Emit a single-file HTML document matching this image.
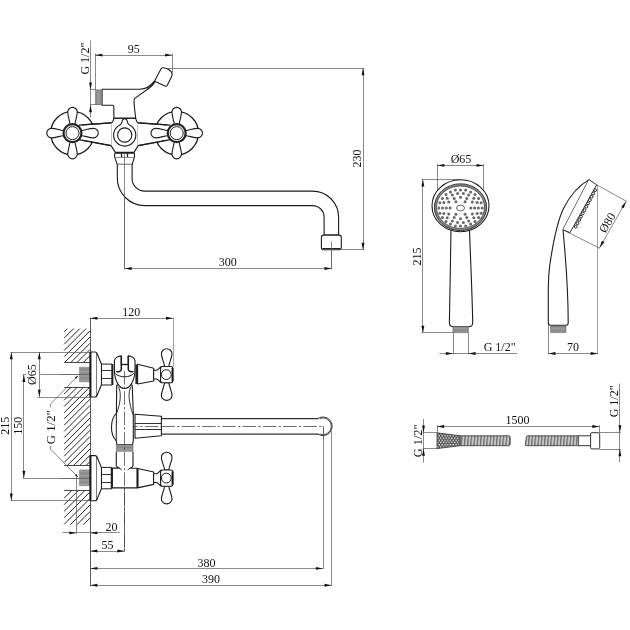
<!DOCTYPE html>
<html><head><meta charset="utf-8"><title>Faucet dimensions</title>
<style>
html,body{margin:0;padding:0;background:#fff;}
body{width:630px;height:630px;overflow:hidden;}
svg{display:block;font-family:"Liberation Serif",serif;filter:grayscale(1);}
</style></head>
<body>
<svg width="630" height="630" viewBox="0 0 630 630" stroke-linecap="butt" stroke-linejoin="round">
<defs>
<pattern id="thr" patternUnits="userSpaceOnUse" width="1.3" height="1.3">
<rect width="1.3" height="1.3" fill="#9c9c9c"/><line x1="0" y1="0" x2="0" y2="1.3" stroke="#707070" stroke-width="0.6"/>
</pattern>
<pattern id="thrh" patternUnits="userSpaceOnUse" width="1.3" height="1.3">
<rect width="1.3" height="1.3" fill="#9c9c9c"/><line x1="0" y1="0" x2="1.3" y2="0" stroke="#707070" stroke-width="0.6"/>
</pattern>
<pattern id="knurl" patternUnits="userSpaceOnUse" width="2.8" height="4.4" x="437.2" y="432.6">
<rect width="2.8" height="4.4" fill="#4a4a4a"/><circle cx="0.7" cy="1.1" r="0.8" fill="#f4f4f4"/><circle cx="2.1" cy="3.3" r="0.8" fill="#f4f4f4"/>
</pattern>
<pattern id="hose" patternUnits="userSpaceOnUse" width="3.2" height="12" patternTransform="skewX(-6)">
<rect width="3.2" height="12" fill="#8e8e8e"/><rect x="0.3" width="1.2" height="12" fill="#e6e6e6"/><rect x="1.5" width="0.6" height="12" fill="#5a5a5a"/>
</pattern>
</defs>
<rect width="630" height="630" fill="#fff"/>
<line x1="90.5" y1="40.5" x2="90.5" y2="117.5" stroke="#5a5a5a" stroke-width="0.72" />
<line x1="95.5" y1="53.5" x2="95.5" y2="90" stroke="#5a5a5a" stroke-width="0.72" />
<line x1="172.5" y1="53.5" x2="172.5" y2="72.6" stroke="#5a5a5a" stroke-width="0.72" />
<line x1="95.1" y1="55.5" x2="172.3" y2="55.5" stroke="#5a5a5a" stroke-width="0.72" />
<polygon points="95.10,55.10 102.30,53.65 102.30,56.55" fill="#111"/>
<polygon points="172.30,55.10 165.10,56.55 165.10,53.65" fill="#111"/>
<text x="133.8" y="53.0" font-size="12" text-anchor="middle" fill="#111">95</text>
<polygon points="90.50,89.70 89.05,82.50 91.95,82.50" fill="#111"/>
<polygon points="90.50,105.00 91.95,112.20 89.05,112.20" fill="#111"/>
<line x1="90.0" y1="89.5" x2="96" y2="89.5" stroke="#5a5a5a" stroke-width="0.72" />
<text x="88.6" y="58.6" font-size="12" text-anchor="middle" fill="#111" transform="rotate(-90 88.6 58.6)">G 1/2&quot;</text>
<line x1="163.0" y1="68.5" x2="364.0" y2="68.5" stroke="#5a5a5a" stroke-width="0.72" />
<line x1="363.5" y1="68.1" x2="363.5" y2="249.8" stroke="#5a5a5a" stroke-width="0.72" />
<line x1="341.3" y1="249.5" x2="364.2" y2="249.5" stroke="#5a5a5a" stroke-width="0.72" />
<polygon points="363.00,68.10 364.45,75.30 361.55,75.30" fill="#111"/>
<polygon points="363.00,249.90 361.55,242.70 364.45,242.70" fill="#111"/>
<text x="361.0" y="158.5" font-size="12" text-anchor="middle" fill="#111" transform="rotate(-90 361.0 158.5)">230</text>
<line x1="124.5" y1="157" x2="124.5" y2="269.2" stroke="#5a5a5a" stroke-width="0.72" />
<line x1="331.5" y1="241.4" x2="331.5" y2="269.2" stroke="#5a5a5a" stroke-width="0.72" />
<line x1="124.5" y1="268.5" x2="331.7" y2="268.5" stroke="#5a5a5a" stroke-width="0.72" />
<polygon points="124.50,268.50 131.70,267.05 131.70,269.95" fill="#111"/>
<polygon points="331.70,268.50 324.50,269.95 324.50,267.05" fill="#111"/>
<text x="227.8" y="265.8" font-size="12" text-anchor="middle" fill="#111">300</text>
<circle cx="72.5" cy="133.1" r="21.8" stroke="#1c1c1c" stroke-width="1.3" fill="#fff"/>
<circle cx="176.7" cy="133.1" r="21.8" stroke="#1c1c1c" stroke-width="1.3" fill="#fff"/>
<path d="M113.9,118.1 H135.6 C136.3,120.8 136.9,122.5 138.4,122.9 L167.2,124.9 L167.2,140.2 L138.2,145.6 L134.0,152.4 H115.4 L111.0,145.6 L82.0,140.2 L82.0,124.9 L111.0,122.9 C112.6,122.5 113.4,120.8 113.9,118.1 Z" fill="#fff" stroke="none"/>
<path d="M82.0,124.9 L111.0,122.9 C112.6,122.5 113.4,120.8 113.9,118.1 H135.6 C136.3,120.8 136.9,122.5 138.4,122.9 L167.2,124.9" stroke="#1c1c1c" stroke-width="1.1" fill="none" />
<path d="M82.0,140.2 L111.0,145.6 L115.4,152.4 H134.0 L138.2,145.6 L167.2,140.2" stroke="#1c1c1c" stroke-width="1.1" fill="none" />
<line x1="111.5" y1="123.6" x2="111.5" y2="144.8" stroke="#9a9a9a" stroke-width="0.6" />
<line x1="137.5" y1="123.6" x2="137.5" y2="144.8" stroke="#9a9a9a" stroke-width="0.6" />
<path d="M102.1,105.3 V89.2 H140 C146,89.1 150.4,86.2 154.6,80.9 L161.1,68.8 Q161.9,67.5 163.4,67.8 C167.5,68.4 172.2,70.8 172.1,74.4 Q172.1,75.6 171.5,76.8 L167.3,85.3 Q166.5,86.7 165.0,86.0 L155.2,81.4 C153.0,85.2 151.0,86.9 149.0,88.3 L134.4,98.6 C133.2,102 135.0,111 135.7,118.1 H113.9 L113.8,106.8 Q113.9,105.3 112.6,105.3 Z" stroke="#1c1c1c" stroke-width="1.1" fill="#fff" />
<path d="M147.2,88.6 C150.2,87.0 152.6,84.6 154.9,81.2" stroke="#1c1c1c" stroke-width="0.8" fill="none" />
<line x1="90.0" y1="104.5" x2="102.1" y2="104.5" stroke="#5a5a5a" stroke-width="0.72" />
<rect x="95.4" y="89.8" width="6.7" height="14.9" rx="0" stroke="#666" stroke-width="0.5" fill="url(#thr)"/>
<path d="M119.9,125.0 C122.0,124.0 121.9,122.0 122.3,120.6 A2.45,2.45 0 0 1 127.1,120.6 C127.5,122.0 127.4,124.0 129.5,125.0 A11.1,11.1 0 1 1 119.9,125.0 Z" stroke="#1c1c1c" stroke-width="1.1" fill="#fff" />
<circle cx="124.7" cy="135.0" r="7.1" stroke="#1c1c1c" stroke-width="1.1" fill="#fff"/>
<rect x="114.6" y="153.2" width="19.9" height="4.3" rx="0.8" stroke="#1c1c1c" stroke-width="1.1" fill="#fff"/>
<line x1="121.5" y1="153.2" x2="121.5" y2="157.5" stroke="#222" stroke-width="1.3" />
<line x1="127.5" y1="153.2" x2="127.5" y2="157.5" stroke="#222" stroke-width="1.3" />
<path d="M114.8,157.6 L117.3,164.6 H132.1 L134.3,157.6" stroke="#1c1c1c" stroke-width="1.1" fill="#fff" />
<line x1="117.3" y1="164.5" x2="132.1" y2="164.5" stroke="#222" stroke-width="1.4" />
<path d="M117.3,164.4 V178.0 A27.5,27.5 0 0 0 144.8,205.6 H312.5 A11.6,11.6 0 0 1 324.1,217.2 V235.1 H338.6 V217.2 A26.1,26.1 0 0 0 312.5,191.1 H144.8 A12.7,12.7 0 0 1 132.1,178.4 V164.4" stroke="#1c1c1c" stroke-width="1.1" fill="#fff" />
<rect x="321.4" y="235.1" width="19.9" height="14.6" rx="2.2" stroke="#1c1c1c" stroke-width="1.1" fill="#fff"/>
<line x1="322.6" y1="248.5" x2="340.2" y2="248.5" stroke="#222" stroke-width="1.0" />
<line x1="124.5" y1="153.3" x2="124.5" y2="269.2" stroke="#5a5a5a" stroke-width="0.72" />
<line x1="331.5" y1="241.4" x2="331.5" y2="269.2" stroke="#5a5a5a" stroke-width="0.72" />
<path d="M79.0,125.1 L111.0,122.9 M79.0,139.6 L111.0,145.6 M170.2,125.1 L138.4,122.9 M170.2,139.6 L138.2,145.6" stroke="#1c1c1c" stroke-width="1.1" fill="none" />
<path d="M-2.4,-8.6 C-3.0,-13 -4.75,-17 -4.75,-21.0 A4.75,4.75 0 0 1 4.75,-21.0 C4.75,-17 3.0,-13 2.4,-8.6" transform="translate(72.5 133.1) rotate(0)" stroke="#1c1c1c" stroke-width="1.1" fill="#fff"/>
<path d="M-2.4,-8.6 C-3.0,-13 -4.75,-17 -4.75,-21.0 A4.75,4.75 0 0 1 4.75,-21.0 C4.75,-17 3.0,-13 2.4,-8.6" transform="translate(72.5 133.1) rotate(90)" stroke="#1c1c1c" stroke-width="1.1" fill="#fff"/>
<path d="M-2.4,-8.6 C-3.0,-13 -4.75,-17 -4.75,-21.0 A4.75,4.75 0 0 1 4.75,-21.0 C4.75,-17 3.0,-13 2.4,-8.6" transform="translate(72.5 133.1) rotate(180)" stroke="#1c1c1c" stroke-width="1.1" fill="#fff"/>
<path d="M-2.4,-8.6 C-3.0,-13 -4.75,-17 -4.75,-21.0 A4.75,4.75 0 0 1 4.75,-21.0 C4.75,-17 3.0,-13 2.4,-8.6" transform="translate(72.5 133.1) rotate(270)" stroke="#1c1c1c" stroke-width="1.1" fill="#fff"/>
<circle cx="72.5" cy="133.1" r="9.0" stroke="#222" stroke-width="2.2" fill="#fff"/>
<circle cx="72.5" cy="133.1" r="6.5" stroke="#1c1c1c" stroke-width="1.0" fill="#fff"/>
<path d="M-2.4,-8.6 C-3.0,-13 -4.75,-17 -4.75,-21.0 A4.75,4.75 0 0 1 4.75,-21.0 C4.75,-17 3.0,-13 2.4,-8.6" transform="translate(176.7 133.1) rotate(0)" stroke="#1c1c1c" stroke-width="1.1" fill="#fff"/>
<path d="M-2.4,-8.6 C-3.0,-13 -4.75,-17 -4.75,-21.0 A4.75,4.75 0 0 1 4.75,-21.0 C4.75,-17 3.0,-13 2.4,-8.6" transform="translate(176.7 133.1) rotate(90)" stroke="#1c1c1c" stroke-width="1.1" fill="#fff"/>
<path d="M-2.4,-8.6 C-3.0,-13 -4.75,-17 -4.75,-21.0 A4.75,4.75 0 0 1 4.75,-21.0 C4.75,-17 3.0,-13 2.4,-8.6" transform="translate(176.7 133.1) rotate(180)" stroke="#1c1c1c" stroke-width="1.1" fill="#fff"/>
<path d="M-2.4,-8.6 C-3.0,-13 -4.75,-17 -4.75,-21.0 A4.75,4.75 0 0 1 4.75,-21.0 C4.75,-17 3.0,-13 2.4,-8.6" transform="translate(176.7 133.1) rotate(270)" stroke="#1c1c1c" stroke-width="1.1" fill="#fff"/>
<circle cx="176.7" cy="133.1" r="9.0" stroke="#222" stroke-width="2.2" fill="#fff"/>
<circle cx="176.7" cy="133.1" r="6.5" stroke="#1c1c1c" stroke-width="1.0" fill="#fff"/>
<line x1="64.20" y1="331.80" x2="67.40" y2="328.60" stroke="#262626" stroke-width="1.0"/>
<line x1="64.20" y1="338.02" x2="73.62" y2="328.60" stroke="#262626" stroke-width="1.0"/>
<line x1="64.20" y1="344.24" x2="79.84" y2="328.60" stroke="#262626" stroke-width="1.0"/>
<line x1="64.20" y1="350.46" x2="86.06" y2="328.60" stroke="#262626" stroke-width="1.0"/>
<line x1="64.20" y1="356.68" x2="90.20" y2="330.68" stroke="#262626" stroke-width="1.0"/>
<line x1="64.70" y1="362.40" x2="90.20" y2="336.90" stroke="#262626" stroke-width="1.0"/>
<line x1="70.92" y1="362.40" x2="90.20" y2="343.12" stroke="#262626" stroke-width="1.0"/>
<line x1="77.14" y1="362.40" x2="90.20" y2="349.34" stroke="#262626" stroke-width="1.0"/>
<line x1="83.36" y1="362.40" x2="90.20" y2="355.56" stroke="#262626" stroke-width="1.0"/>
<line x1="64.20" y1="394.00" x2="71.20" y2="387.00" stroke="#262626" stroke-width="1.0"/>
<line x1="64.20" y1="400.22" x2="77.42" y2="387.00" stroke="#262626" stroke-width="1.0"/>
<line x1="64.20" y1="406.44" x2="83.64" y2="387.00" stroke="#262626" stroke-width="1.0"/>
<line x1="64.20" y1="412.66" x2="89.86" y2="387.00" stroke="#262626" stroke-width="1.0"/>
<line x1="64.20" y1="418.88" x2="90.20" y2="392.88" stroke="#262626" stroke-width="1.0"/>
<line x1="64.20" y1="425.10" x2="90.20" y2="399.10" stroke="#262626" stroke-width="1.0"/>
<line x1="64.20" y1="431.32" x2="90.20" y2="405.32" stroke="#262626" stroke-width="1.0"/>
<line x1="64.20" y1="437.54" x2="90.20" y2="411.54" stroke="#262626" stroke-width="1.0"/>
<line x1="64.20" y1="443.76" x2="90.20" y2="417.76" stroke="#262626" stroke-width="1.0"/>
<line x1="64.20" y1="449.98" x2="90.20" y2="423.98" stroke="#262626" stroke-width="1.0"/>
<line x1="64.20" y1="456.20" x2="90.20" y2="430.20" stroke="#262626" stroke-width="1.0"/>
<line x1="64.20" y1="462.42" x2="90.20" y2="436.42" stroke="#262626" stroke-width="1.0"/>
<line x1="67.34" y1="465.50" x2="90.20" y2="442.64" stroke="#262626" stroke-width="1.0"/>
<line x1="73.56" y1="465.50" x2="90.20" y2="448.86" stroke="#262626" stroke-width="1.0"/>
<line x1="79.78" y1="465.50" x2="90.20" y2="455.08" stroke="#262626" stroke-width="1.0"/>
<line x1="86.00" y1="465.50" x2="90.20" y2="461.30" stroke="#262626" stroke-width="1.0"/>
<line x1="64.20" y1="498.10" x2="71.90" y2="490.40" stroke="#262626" stroke-width="1.0"/>
<line x1="64.20" y1="504.65" x2="78.45" y2="490.40" stroke="#262626" stroke-width="1.0"/>
<line x1="64.20" y1="511.20" x2="85.00" y2="490.40" stroke="#262626" stroke-width="1.0"/>
<line x1="64.20" y1="517.75" x2="90.20" y2="491.75" stroke="#262626" stroke-width="1.0"/>
<line x1="64.20" y1="524.30" x2="90.20" y2="498.30" stroke="#262626" stroke-width="1.0"/>
<line x1="70.35" y1="524.70" x2="90.20" y2="504.85" stroke="#262626" stroke-width="1.0"/>
<line x1="76.90" y1="524.70" x2="90.20" y2="511.40" stroke="#262626" stroke-width="1.0"/>
<line x1="83.45" y1="524.70" x2="90.20" y2="517.95" stroke="#262626" stroke-width="1.0"/>
<line x1="64.2" y1="362.5" x2="90.2" y2="362.5" stroke="#333" stroke-width="0.9" />
<line x1="64.2" y1="387.5" x2="90.2" y2="387.5" stroke="#333" stroke-width="0.9" />
<line x1="64.2" y1="465.5" x2="90.2" y2="465.5" stroke="#333" stroke-width="0.9" />
<line x1="64.2" y1="490.5" x2="90.2" y2="490.5" stroke="#333" stroke-width="0.9" />
<line x1="90.5" y1="317.5" x2="90.5" y2="586.2" stroke="#4a4a4a" stroke-width="0.9" />
<line x1="173.5" y1="317.5" x2="173.5" y2="367" stroke="#777" stroke-width="0.7" />
<line x1="90.2" y1="318.5" x2="173.2" y2="318.5" stroke="#5a5a5a" stroke-width="0.72" />
<polygon points="90.20,318.30 97.40,316.85 97.40,319.75" fill="#111"/>
<polygon points="173.20,318.30 166.00,319.75 166.00,316.85" fill="#111"/>
<text x="131.3" y="316.0" font-size="12" text-anchor="middle" fill="#111">120</text>
<line x1="10.5" y1="352.5" x2="96" y2="352.5" stroke="#5a5a5a" stroke-width="0.72" />
<line x1="10.5" y1="500.5" x2="90.2" y2="500.5" stroke="#5a5a5a" stroke-width="0.72" />
<line x1="11.5" y1="352.0" x2="11.5" y2="500.8" stroke="#5a5a5a" stroke-width="0.72" />
<polygon points="11.30,352.00 12.75,359.20 9.85,359.20" fill="#111"/>
<polygon points="11.30,500.80 9.85,493.60 12.75,493.60" fill="#111"/>
<text x="9.0" y="425.7" font-size="12" text-anchor="middle" fill="#111" transform="rotate(-90 9.0 425.7)">215</text>
<line x1="22.7" y1="374.5" x2="26.4" y2="374.5" stroke="#5a5a5a" stroke-width="0.72" />
<line x1="40.4" y1="374.5" x2="94.3" y2="374.5" stroke="#5a5a5a" stroke-width="0.72" />
<line x1="22.7" y1="478.5" x2="94.3" y2="478.5" stroke="#5a5a5a" stroke-width="0.72" />
<line x1="23.5" y1="374.7" x2="23.5" y2="478.0" stroke="#5a5a5a" stroke-width="0.72" />
<polygon points="23.90,374.70 25.35,381.90 22.45,381.90" fill="#111"/>
<polygon points="23.90,478.00 22.45,470.80 25.35,470.80" fill="#111"/>
<text x="22.3" y="425.7" font-size="12" text-anchor="middle" fill="#111" transform="rotate(-90 22.3 425.7)">150</text>
<line x1="37.5" y1="397.5" x2="90.2" y2="397.5" stroke="#5a5a5a" stroke-width="0.72" />
<line x1="39.5" y1="352.0" x2="39.5" y2="397.0" stroke="#5a5a5a" stroke-width="0.72" />
<polygon points="39.30,352.00 40.75,359.20 37.85,359.20" fill="#111"/>
<polygon points="39.30,397.00 37.85,389.80 40.75,389.80" fill="#111"/>
<text x="36.4" y="374.6" font-size="12" text-anchor="middle" fill="#111" transform="rotate(-90 36.4 374.6)">&#216;65</text>
<path d="M77.7,376.0 L50.4,404.2 V407.5 M50.4,446.0 V449.0 L77.7,476.8" stroke="#5a5a5a" stroke-width="0.72" fill="none" />
<text x="54.6" y="427.2" font-size="12.8" text-anchor="middle" fill="#111" transform="rotate(-90 54.6 427.2)">G 1/2&quot;</text>
<polygon points="78.20,375.50 76.42,378.78 74.98,377.39" fill="#111"/>
<polygon points="78.20,477.30 74.98,475.41 76.42,474.02" fill="#111"/>
<rect x="79.4" y="367.2" width="10.799999999999997" height="14.6" rx="0" stroke="#666" stroke-width="0.4" fill="url(#thrh)"/>
<rect x="79.4" y="469.9" width="10.799999999999997" height="15.8" rx="0" stroke="#666" stroke-width="0.4" fill="url(#thrh)"/>
<line x1="60" y1="374.5" x2="93.6" y2="374.5" stroke="#5a5a5a" stroke-width="0.72" />
<line x1="60" y1="478.5" x2="93.6" y2="478.5" stroke="#5a5a5a" stroke-width="0.72" />
<line x1="76.5" y1="476.8" x2="76.5" y2="533.8" stroke="#5a5a5a" stroke-width="0.72" />
<line x1="62.6" y1="532.5" x2="119.8" y2="532.5" stroke="#5a5a5a" stroke-width="0.72" />
<polygon points="76.50,532.90 69.30,534.35 69.30,531.45" fill="#111"/>
<polygon points="90.20,532.90 97.40,531.45 97.40,534.35" fill="#111"/>
<text x="111.6" y="530.6" font-size="12" text-anchor="middle" fill="#111">20</text>
<line x1="124.5" y1="488" x2="124.5" y2="551.6" stroke="#5a5a5a" stroke-width="0.72" />
<line x1="90.2" y1="551.5" x2="124.6" y2="551.5" stroke="#5a5a5a" stroke-width="0.72" />
<polygon points="90.20,551.00 97.40,549.55 97.40,552.45" fill="#111"/>
<polygon points="124.60,551.00 117.40,552.45 117.40,549.55" fill="#111"/>
<text x="107.5" y="548.5" font-size="12" text-anchor="middle" fill="#111">55</text>
<line x1="323.5" y1="426.3" x2="323.5" y2="569.0" stroke="#5a5a5a" stroke-width="0.72" />
<line x1="90.2" y1="568.5" x2="323.0" y2="568.5" stroke="#5a5a5a" stroke-width="0.72" />
<polygon points="90.20,568.40 97.40,566.95 97.40,569.85" fill="#111"/>
<polygon points="323.00,568.40 315.80,569.85 315.80,566.95" fill="#111"/>
<text x="206.6" y="566.5" font-size="12" text-anchor="middle" fill="#111">380</text>
<line x1="331.5" y1="431.0" x2="331.5" y2="585.8" stroke="#5a5a5a" stroke-width="0.72" />
<line x1="90.2" y1="585.5" x2="331.7" y2="585.5" stroke="#5a5a5a" stroke-width="0.72" />
<polygon points="90.20,585.20 97.40,583.75 97.40,586.65" fill="#111"/>
<polygon points="331.70,585.20 324.50,586.65 324.50,583.75" fill="#111"/>
<text x="211.0" y="583.2" font-size="12" text-anchor="middle" fill="#111">390</text>
<path d="M90.2,352.0 H95.0 Q96.9,352.0 96.9,354.0 V395.0 Q96.9,397.0 95.0,397.0 H90.2 Z" stroke="#1c1c1c" stroke-width="1.1" fill="#fff" />
<path d="M96.9,353.2 L101.5,364.2 V384.8 L96.9,395.8" stroke="#1c1c1c" stroke-width="1.1" fill="#fff" />
<line x1="90.5" y1="352.0" x2="90.5" y2="397.0" stroke="#1a1a1a" stroke-width="1.9" />
<rect x="101.5" y="364.1" width="10.5" height="20.899999999999977" rx="0" stroke="#1c1c1c" stroke-width="1.0" fill="#fff"/>
<line x1="101.5" y1="370.5" x2="112.0" y2="370.5" stroke="#1c1c1c" stroke-width="0.9" />
<line x1="101.5" y1="378.5" x2="112.0" y2="378.5" stroke="#1c1c1c" stroke-width="0.9" />
<line x1="112.5" y1="364.1" x2="112.5" y2="385.0" stroke="#222" stroke-width="1.8" />
<path d="M137.6,364.3 L153.8,368.3 V381.0 L137.6,384.0 Z" stroke="#1c1c1c" stroke-width="1.1" fill="#fff" />
<line x1="136.5" y1="364.4" x2="136.5" y2="384.0" stroke="#222" stroke-width="2.2" />
<path d="M-2.1,-8.0 C-2.6,-12.5 -5.3,-16.8 -5.3,-20.8 A5.3,5.0 0 0 1 5.3,-20.8 C5.3,-16.8 2.6,-12.5 2.1,-8.0 Z" transform="translate(166.7 374.6)" stroke="#1c1c1c" stroke-width="1.1" fill="#fff"/>
<path d="M-2.1,-8.0 C-2.6,-12.5 -5.3,-16.8 -5.3,-20.8 A5.3,5.0 0 0 1 5.3,-20.8 C5.3,-16.8 2.6,-12.5 2.1,-8.0 Z" transform="translate(166.7 374.6) scale(1 -1)" stroke="#1c1c1c" stroke-width="1.1" fill="#fff"/>
<path d="M153.6,370.20000000000005 H156.4 C158.4,370.0 159.4,367.40000000000003 161.2,366.6 V382.6 C159.4,381.8 158.4,379.20000000000005 156.4,379.0 H153.6 Z" stroke="#1c1c1c" stroke-width="1.1" fill="#fff" />
<rect x="160.6" y="366.5" width="12.2" height="16.2" rx="2.0" stroke="#1c1c1c" stroke-width="1.1" fill="#fff"/>
<line x1="172.5" y1="368.0" x2="172.5" y2="381.20000000000005" stroke="#1a1a1a" stroke-width="1.9" />
<circle cx="166.29999999999998" cy="374.6" r="4.9" stroke="#1c1c1c" stroke-width="1.0" fill="none"/>
<path d="M90.2,455.6 H95.0 Q96.9,455.6 96.9,457.6 V498.8 Q96.9,500.8 95.0,500.8 H90.2 Z" stroke="#1c1c1c" stroke-width="1.1" fill="#fff" />
<path d="M96.9,456.8 L101.5,467.90000000000003 V488.50000000000006 L96.9,499.6" stroke="#1c1c1c" stroke-width="1.1" fill="#fff" />
<line x1="90.5" y1="455.6" x2="90.5" y2="500.8" stroke="#1a1a1a" stroke-width="1.9" />
<rect x="101.5" y="467.4" width="10.099999999999994" height="21.400000000000034" rx="0" stroke="#1c1c1c" stroke-width="1.0" fill="#fff"/>
<line x1="101.5" y1="474.5" x2="111.6" y2="474.5" stroke="#1c1c1c" stroke-width="0.9" />
<line x1="101.5" y1="482.5" x2="111.6" y2="482.5" stroke="#1c1c1c" stroke-width="0.9" />
<line x1="111.5" y1="467.4" x2="111.5" y2="488.8" stroke="#222" stroke-width="1.5" />
<path d="M137.6,468.5 L153.7,472.0 V484.4 L137.6,487.9 Z" stroke="#1c1c1c" stroke-width="1.1" fill="#fff" />
<line x1="137.5" y1="468.3" x2="137.5" y2="488.0" stroke="#222" stroke-width="2.0" />
<path d="M-2.1,-8.0 C-2.6,-12.5 -5.3,-16.8 -5.3,-20.8 A5.3,5.0 0 0 1 5.3,-20.8 C5.3,-16.8 2.6,-12.5 2.1,-8.0 Z" transform="translate(166.7 478.1)" stroke="#1c1c1c" stroke-width="1.1" fill="#fff"/>
<path d="M-2.1,-8.0 C-2.6,-12.5 -5.3,-16.8 -5.3,-20.8 A5.3,5.0 0 0 1 5.3,-20.8 C5.3,-16.8 2.6,-12.5 2.1,-8.0 Z" transform="translate(166.7 478.1) scale(1 -1)" stroke="#1c1c1c" stroke-width="1.1" fill="#fff"/>
<path d="M153.6,473.70000000000005 H156.4 C158.4,473.5 159.4,470.90000000000003 161.2,470.1 V486.1 C159.4,485.3 158.4,482.70000000000005 156.4,482.5 H153.6 Z" stroke="#1c1c1c" stroke-width="1.1" fill="#fff" />
<rect x="160.6" y="470.0" width="12.2" height="16.2" rx="2.0" stroke="#1c1c1c" stroke-width="1.1" fill="#fff"/>
<line x1="172.5" y1="471.5" x2="172.5" y2="484.70000000000005" stroke="#1a1a1a" stroke-width="1.9" />
<circle cx="166.29999999999998" cy="478.1" r="4.9" stroke="#1c1c1c" stroke-width="1.0" fill="none"/>
<path d="M161.4,418.7 H320 V434.0 H161.4 Z" fill="#fff" stroke="none"/>
<path d="M161.4,418.7 H318.2 M161.4,434.0 H318.2" stroke="#333" stroke-width="1.25" fill="none" />
<path d="M317.7,418.6 A9.3,9.3 0 1 1 317.7,434.0" stroke="#222" stroke-width="0.9" fill="none" />
<path d="M319.8,418.6 A8.3,8.3 0 1 1 319.8,434.0" stroke="#333" stroke-width="0.9" fill="none" />
<line x1="161.4" y1="426.5" x2="323.0" y2="426.5" stroke="#333" stroke-width="0.7" stroke-dasharray="13.5 2.2 2.4 2.2"/>
<line x1="323.5" y1="426.3" x2="323.5" y2="440" stroke="#5a5a5a" stroke-width="0.7" />
<path d="M135.0,414.3 L161.4,416.2 V435.8 L135.0,438.2 Z" stroke="#1c1c1c" stroke-width="1.1" fill="#fff" />
<line x1="135.0" y1="423.5" x2="161.4" y2="423.5" stroke="#1c1c1c" stroke-width="0.9" />
<line x1="135.0" y1="429.5" x2="161.4" y2="429.5" stroke="#1c1c1c" stroke-width="0.9" />
<line x1="124.7" y1="426.5" x2="161.4" y2="426.5" stroke="#333" stroke-width="0.7" stroke-dasharray="13.5 2.2 2.4 2.2"/>
<path d="M116.7,385.0 L116.4,413.3 C110.4,418.5 109.4,434 116.2,440.6 L116.9,444.6 H132.6 L133.3,440.6 V413.3 L132.2,385.0 Z" stroke="#1c1c1c" stroke-width="1.1" fill="#fff" />
<path d="M116.4,413.3 L116.2,440.6" stroke="#1c1c1c" stroke-width="1.0" fill="none" />
<path d="M118.3,386.7 C121.6,392 120.6,403 116.6,413.3" stroke="#1c1c1c" stroke-width="0.9" fill="none" />
<path d="M131.0,386.7 C127.7,392 128.7,403 133.2,415.0" stroke="#1c1c1c" stroke-width="0.9" fill="none" />
<rect x="116.4" y="444.6" width="16.6" height="7.0" rx="0" stroke="#555" stroke-width="0.5" fill="url(#thrh)"/>
<path d="M116.3,451.7 V465.8 Q117.4,467.8 119.4,468.1 H112.4 V487.9 H137.0 V468.2 H130.0 Q132.0,467.8 133.0,465.8 V451.7" stroke="#1c1c1c" stroke-width="1.1" fill="#fff" />
<path d="M119.4,468.1 Q121.0,468.6 121.6,470.2 M130.0,468.2 Q128.4,468.6 127.8,470.2" stroke="#1c1c1c" stroke-width="0.9" fill="none" />
<path d="M114.4,360.6 C114.6,358.2 118.0,356.3 121.3,355.9 V364.5 H128.3 V355.9 C131.6,356.3 134.8,358.2 135.0,360.6 V371.0 C134.4,382.0 129.5,388.5 124.5,388.5 C119.5,388.5 115.0,382.0 114.4,371.0 Z" stroke="#1c1c1c" stroke-width="1.1" fill="#fff" />
<path d="M121.3,356.0 V369.6 C120.9,371.4 118.2,372.3 116.0,371.4" stroke="#1c1c1c" stroke-width="1.5" fill="none" />
<path d="M128.3,356.0 V369.6 C128.7,371.4 131.4,372.3 133.6,371.4" stroke="#1c1c1c" stroke-width="1.5" fill="none" />
<line x1="121.3" y1="364.5" x2="128.3" y2="364.5" stroke="#1c1c1c" stroke-width="1.3" />
<path d="M115.4,373.2 C118.6,378.0 130.6,378.0 133.8,373.2" stroke="#1c1c1c" stroke-width="1.0" fill="none" />
<line x1="124.5" y1="371.0" x2="124.5" y2="551.0" stroke="#333" stroke-width="0.7" stroke-dasharray="13.5 2.2 2.4 2.2"/>
<line x1="437.5" y1="164.0" x2="437.5" y2="190.5" stroke="#5a5a5a" stroke-width="0.72" />
<line x1="483.5" y1="164.0" x2="483.5" y2="189.5" stroke="#5a5a5a" stroke-width="0.72" />
<line x1="437.2" y1="165.5" x2="483.7" y2="165.5" stroke="#5a5a5a" stroke-width="0.72" />
<polygon points="437.20,165.40 444.40,163.95 444.40,166.85" fill="#111"/>
<polygon points="483.70,165.40 476.50,166.85 476.50,163.95" fill="#111"/>
<text x="461.0" y="162.6" font-size="12" text-anchor="middle" fill="#111">&#216;65</text>
<line x1="421.8" y1="179.5" x2="460.6" y2="179.5" stroke="#5a5a5a" stroke-width="0.72" />
<line x1="421.8" y1="332.5" x2="452.8" y2="332.5" stroke="#5a5a5a" stroke-width="0.72" />
<line x1="422.5" y1="179.4" x2="422.5" y2="332.9" stroke="#5a5a5a" stroke-width="0.72" />
<polygon points="422.90,179.40 424.35,186.60 421.45,186.60" fill="#111"/>
<polygon points="422.90,332.90 421.45,325.70 424.35,325.70" fill="#111"/>
<text x="420.6" y="256.6" font-size="12" text-anchor="middle" fill="#111" transform="rotate(-90 420.6 256.6)">215</text>
<line x1="453.5" y1="332.7" x2="453.5" y2="354.2" stroke="#5a5a5a" stroke-width="0.72" />
<line x1="468.5" y1="332.7" x2="468.5" y2="354.2" stroke="#5a5a5a" stroke-width="0.72" />
<line x1="439.4" y1="353.5" x2="517.2" y2="353.5" stroke="#5a5a5a" stroke-width="0.72" />
<polygon points="453.10,353.50 445.90,354.95 445.90,352.05" fill="#111"/>
<polygon points="468.40,353.50 475.60,352.05 475.60,354.95" fill="#111"/>
<text x="499.6" y="351.4" font-size="12" text-anchor="middle" fill="#111">G 1/2&quot;</text>
<path d="M451.0,228 C450.6,260 449.6,300 449.4,322.6 Q449.4,326.7 453.0,326.7 H468.8 Q472.8,326.7 472.7,322.6 C472.4,300 470.6,260 469.4,228 Z" stroke="#1c1c1c" stroke-width="1.1" fill="#fff" />
<rect x="452.9" y="326.7" width="15.5" height="6.0" rx="0" stroke="#555" stroke-width="0.5" fill="url(#thrh)"/>
<ellipse cx="460.5" cy="205.8" rx="28.5" ry="26.0" fill="#fff" stroke="#1c1c1c" stroke-width="1.1"/>
<ellipse cx="460.5" cy="207.2" rx="25.1" ry="22.3" fill="#fff" stroke="#8a8a8a" stroke-width="2.0"/>
<ellipse cx="460.5" cy="207.2" rx="26.1" ry="23.4" fill="none" stroke="#222" stroke-width="0.9"/>
<ellipse cx="460.5" cy="207.2" rx="24.0" ry="21.2" fill="none" stroke="#333" stroke-width="0.8"/>
<ellipse cx="460.5" cy="208.0" rx="4.0" ry="2.9" fill="#fff" stroke="#555" stroke-width="0.9"/>
<circle cx="439.9" cy="202.8" r="1.5" fill="#686868"/>
<circle cx="439.9" cy="213.2" r="1.5" fill="#686868"/>
<circle cx="481.1" cy="202.8" r="1.5" fill="#686868"/>
<circle cx="481.1" cy="213.2" r="1.5" fill="#686868"/>
<circle cx="443.9" cy="202.5" r="1.5" fill="#686868"/>
<circle cx="443.9" cy="213.5" r="1.5" fill="#686868"/>
<circle cx="477.1" cy="202.5" r="1.5" fill="#686868"/>
<circle cx="477.1" cy="213.5" r="1.5" fill="#686868"/>
<circle cx="448.7" cy="202.1" r="1.5" fill="#686868"/>
<circle cx="448.7" cy="213.9" r="1.5" fill="#686868"/>
<circle cx="472.3" cy="202.1" r="1.5" fill="#686868"/>
<circle cx="472.3" cy="213.9" r="1.5" fill="#686868"/>
<circle cx="455.9" cy="201.8" r="1.5" fill="#686868"/>
<circle cx="455.9" cy="214.2" r="1.5" fill="#686868"/>
<circle cx="465.1" cy="201.8" r="1.5" fill="#686868"/>
<circle cx="465.1" cy="214.2" r="1.5" fill="#686868"/>
<circle cx="442.4" cy="198.4" r="1.5" fill="#686868"/>
<circle cx="442.4" cy="217.6" r="1.5" fill="#686868"/>
<circle cx="478.6" cy="198.4" r="1.5" fill="#686868"/>
<circle cx="478.6" cy="217.6" r="1.5" fill="#686868"/>
<circle cx="447.2" cy="198.2" r="1.5" fill="#686868"/>
<circle cx="447.2" cy="217.8" r="1.5" fill="#686868"/>
<circle cx="473.8" cy="198.2" r="1.5" fill="#686868"/>
<circle cx="473.8" cy="217.8" r="1.5" fill="#686868"/>
<circle cx="454.2" cy="198.4" r="1.5" fill="#686868"/>
<circle cx="454.2" cy="217.6" r="1.5" fill="#686868"/>
<circle cx="466.8" cy="198.4" r="1.5" fill="#686868"/>
<circle cx="466.8" cy="217.6" r="1.5" fill="#686868"/>
<circle cx="446.0" cy="194.6" r="1.5" fill="#686868"/>
<circle cx="446.0" cy="221.4" r="1.5" fill="#686868"/>
<circle cx="475.0" cy="194.6" r="1.5" fill="#686868"/>
<circle cx="475.0" cy="221.4" r="1.5" fill="#686868"/>
<circle cx="452.3" cy="195.0" r="1.5" fill="#686868"/>
<circle cx="452.3" cy="221.0" r="1.5" fill="#686868"/>
<circle cx="468.7" cy="195.0" r="1.5" fill="#686868"/>
<circle cx="468.7" cy="221.0" r="1.5" fill="#686868"/>
<circle cx="450.4" cy="191.9" r="1.5" fill="#686868"/>
<circle cx="450.4" cy="224.1" r="1.5" fill="#686868"/>
<circle cx="470.6" cy="191.9" r="1.5" fill="#686868"/>
<circle cx="470.6" cy="224.1" r="1.5" fill="#686868"/>
<circle cx="455.4" cy="190.1" r="1.5" fill="#686868"/>
<circle cx="455.4" cy="225.9" r="1.5" fill="#686868"/>
<circle cx="465.6" cy="190.1" r="1.5" fill="#686868"/>
<circle cx="465.6" cy="225.9" r="1.5" fill="#686868"/>
<circle cx="457.6" cy="193.4" r="1.5" fill="#686868"/>
<circle cx="457.6" cy="222.6" r="1.5" fill="#686868"/>
<circle cx="463.4" cy="193.4" r="1.5" fill="#686868"/>
<circle cx="463.4" cy="222.6" r="1.5" fill="#686868"/>
<circle cx="482.1" cy="208.0" r="1.5" fill="#686868"/>
<circle cx="438.9" cy="208.0" r="1.5" fill="#686868"/>
<circle cx="478.4" cy="208.0" r="1.5" fill="#686868"/>
<circle cx="442.6" cy="208.0" r="1.5" fill="#686868"/>
<circle cx="474.7" cy="208.0" r="1.5" fill="#686868"/>
<circle cx="446.3" cy="208.0" r="1.5" fill="#686868"/>
<circle cx="470.9" cy="208.0" r="1.5" fill="#686868"/>
<circle cx="450.1" cy="208.0" r="1.5" fill="#686868"/>
<circle cx="460.5" cy="226.1" r="1.5" fill="#686868"/>
<circle cx="460.5" cy="189.9" r="1.5" fill="#686868"/>
<circle cx="460.5" cy="218.8" r="1.5" fill="#686868"/>
<circle cx="460.5" cy="197.2" r="1.5" fill="#686868"/>
<line x1="597.5" y1="185.0" x2="597.5" y2="354.2" stroke="#777" stroke-width="0.7" />
<line x1="548.5" y1="324.8" x2="548.5" y2="354.2" stroke="#5a5a5a" stroke-width="0.72" />
<line x1="548.3" y1="353.5" x2="597.9" y2="353.5" stroke="#5a5a5a" stroke-width="0.72" />
<polygon points="548.30,353.50 555.50,352.05 555.50,354.95" fill="#111"/>
<polygon points="597.90,353.50 590.70,354.95 590.70,352.05" fill="#111"/>
<text x="573.0" y="350.8" font-size="12" text-anchor="middle" fill="#111">70</text>
<line x1="596.7" y1="184.8" x2="626.9" y2="201.6" stroke="#5a5a5a" stroke-width="0.72" />
<line x1="563.0" y1="229.8" x2="600.0" y2="248.4" stroke="#5a5a5a" stroke-width="0.72" />
<line x1="626.0" y1="201.4" x2="599.6" y2="247.8" stroke="#5a5a5a" stroke-width="0.72" />
<polygon points="626.00,201.40 623.69,208.37 621.17,206.94" fill="#111"/>
<polygon points="599.60,247.80 601.91,240.83 604.43,242.26" fill="#111"/>
<text x="610.8" y="224.7" font-size="12" text-anchor="middle" fill="#111" transform="rotate(-60 610.8 224.7)">&#216;80</text>
<path d="M589.0,179.6 C579,185.5 570,195.5 563.5,208.5 C557,222 553,243 549.8,265 C548.7,273 548.3,280 548.3,288 V323.0 Q548.3,325.2 550.4,325.2 H566.0 Q568.2,325.2 568.2,323.0 C568.2,290 565.4,255 563.0,229.8 Z" stroke="#1c1c1c" stroke-width="1.1" fill="#fff" />
<path d="M589.0,179.6 L596.7,184.8 L570.0,232.6 L563.0,229.8" stroke="#1c1c1c" stroke-width="0.9" fill="#fff" />
<circle cx="595.1" cy="190.2" r="1.4" fill="#fff" stroke="#222" stroke-width="1.0"/>
<circle cx="593.3" cy="193.5" r="1.4" fill="#fff" stroke="#222" stroke-width="1.0"/>
<circle cx="591.6" cy="196.8" r="1.4" fill="#fff" stroke="#222" stroke-width="1.0"/>
<circle cx="589.8" cy="200.1" r="1.4" fill="#fff" stroke="#222" stroke-width="1.0"/>
<circle cx="588.0" cy="203.4" r="1.4" fill="#fff" stroke="#222" stroke-width="1.0"/>
<circle cx="586.3" cy="206.7" r="1.4" fill="#fff" stroke="#222" stroke-width="1.0"/>
<circle cx="584.5" cy="210.1" r="1.4" fill="#fff" stroke="#222" stroke-width="1.0"/>
<circle cx="582.8" cy="213.4" r="1.4" fill="#fff" stroke="#222" stroke-width="1.0"/>
<circle cx="581.0" cy="216.7" r="1.4" fill="#fff" stroke="#222" stroke-width="1.0"/>
<circle cx="579.2" cy="220.0" r="1.4" fill="#fff" stroke="#222" stroke-width="1.0"/>
<circle cx="577.5" cy="223.3" r="1.4" fill="#fff" stroke="#222" stroke-width="1.0"/>
<circle cx="575.7" cy="226.6" r="1.4" fill="#fff" stroke="#222" stroke-width="1.0"/>
<rect x="550.6" y="326.0" width="15.4" height="6.6" rx="0" stroke="#555" stroke-width="0.5" fill="url(#thrh)"/>
<line x1="423.5" y1="419.0" x2="423.5" y2="462.5" stroke="#5a5a5a" stroke-width="0.72" />
<line x1="422.6" y1="432.5" x2="437.0" y2="432.5" stroke="#5a5a5a" stroke-width="0.72" />
<line x1="422.6" y1="448.5" x2="437.0" y2="448.5" stroke="#5a5a5a" stroke-width="0.72" />
<polygon points="423.50,432.80 422.05,425.60 424.95,425.60" fill="#111"/>
<polygon points="423.50,448.60 424.95,455.80 422.05,455.80" fill="#111"/>
<text x="421.7" y="440.8" font-size="12.3" text-anchor="middle" fill="#111" transform="rotate(-90 421.7 440.8)">G 1/2&quot;</text>
<line x1="437.5" y1="425.2" x2="437.5" y2="432.8" stroke="#5a5a5a" stroke-width="0.72" />
<line x1="599.5" y1="425.2" x2="599.5" y2="432.5" stroke="#5a5a5a" stroke-width="0.72" />
<line x1="437.0" y1="426.5" x2="599.5" y2="426.5" stroke="#5a5a5a" stroke-width="0.72" />
<polygon points="437.00,426.50 444.20,425.05 444.20,427.95" fill="#111"/>
<polygon points="599.50,426.50 592.30,427.95 592.30,425.05" fill="#111"/>
<text x="517.6" y="423.9" font-size="12" text-anchor="middle" fill="#111">1500</text>
<line x1="619.5" y1="383.7" x2="619.5" y2="462.4" stroke="#5a5a5a" stroke-width="0.72" />
<line x1="599.5" y1="432.5" x2="621.0" y2="432.5" stroke="#5a5a5a" stroke-width="0.72" />
<line x1="599.5" y1="449.5" x2="621.0" y2="449.5" stroke="#5a5a5a" stroke-width="0.72" />
<polygon points="619.90,432.50 618.45,425.30 621.35,425.30" fill="#111"/>
<polygon points="619.90,449.00 621.35,456.20 618.45,456.20" fill="#111"/>
<text x="617.7" y="401.4" font-size="12" text-anchor="middle" fill="#111" transform="rotate(-90 617.7 401.4)">G 1/2&quot;</text>
<path d="M437.0,432.8 L460.2,435.8 V445.7 L437.0,448.6 Z" stroke="#333" stroke-width="0.8" fill="url(#knurl)" />
<path d="M460.2,435.8 H508.4 Q510.2,435.8 510.2,437.6 V443.9 Q510.2,445.7 508.4,445.7 H460.2 Z" stroke="#333" stroke-width="0.8" fill="url(#hose)" />
<path d="M527.4,435.8 H578.6 V445.7 H526.0 Q525.0,445.7 525.3,444.4 L526.4,437.0 Q526.6,435.8 527.4,435.8 Z" stroke="#333" stroke-width="0.8" fill="url(#hose)" />
<path d="M578.6,435.8 H590.4 M578.6,445.7 H590.4" stroke="#1c1c1c" stroke-width="0.9" fill="none" />
<rect x="590.6" y="432.7" width="9.1" height="16.2" rx="1.2" stroke="#333" stroke-width="1.0" fill="#fff"/>
</svg>
</body></html>
